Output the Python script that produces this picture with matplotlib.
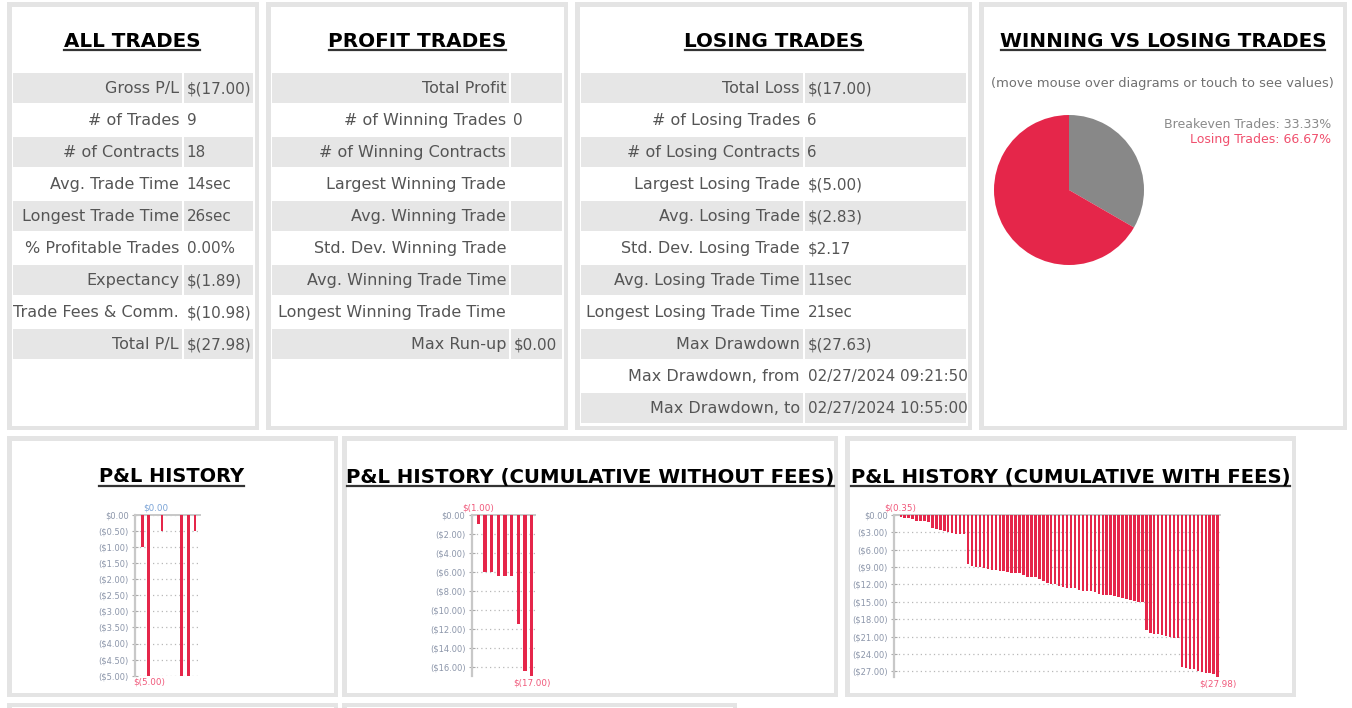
import numpy as np
import matplotlib
matplotlib.use("Agg")
import matplotlib.pyplot as plt
from matplotlib.patches import Rectangle
from matplotlib.lines import Line2D

# ---------------- data ----------------
all_labels = ["Gross P/L", "# of Trades", "# of Contracts", "Avg. Trade Time",
              "Longest Trade Time", "% Profitable Trades", "Expectancy",
              "Trade Fees & Comm.", "Total P/L"]
all_values = ["$(17.00)", "9", "18", "14sec", "26sec", "0.00%", "$(1.89)",
              "$(10.98)", "$(27.98)"]

profit_labels = ["Total Profit", "# of Winning Trades", "# of Winning Contracts",
                 "Largest Winning Trade", "Avg. Winning Trade",
                 "Std. Dev. Winning Trade", "Avg. Winning Trade Time",
                 "Longest Winning Trade Time", "Max Run-up"]
profit_values = ["", "0", "", "", "", "", "", "", "$0.00"]

losing_labels = ["Total Loss", "# of Losing Trades", "# of Losing Contracts",
                 "Largest Losing Trade", "Avg. Losing Trade",
                 "Std. Dev. Losing Trade", "Avg. Losing Trade Time",
                 "Longest Losing Trade Time", "Max Drawdown",
                 "Max Drawdown, from", "Max Drawdown, to"]
losing_values = ["$(17.00)", "6", "6", "$(5.00)", "$(2.83)", "$2.17", "11sec",
                 "21sec", "$(27.63)", "02/27/2024 09:21:50",
                 "02/27/2024 10:55:00"]

pie_labels = ["Breakeven Trades", "Losing Trades"]
pie_values = [33.33, 66.67]

pnl_history = [-1.00, -5.00, 0.00, -0.50, 0.00, 0.00, -5.00, -5.00, -0.50]
cum_without_fees = [-1.00, -6.00, -6.00, -6.50, -6.50, -6.50, -11.50, -16.50, -17.00]
cum_with_fees = [
    -0.35, -0.52, -0.55, -0.70, -1.03, -1.15, -1.17, -1.20, -2.35, -2.55,
    -2.70, -2.75, -2.90, -3.10, -3.28, -3.35, -3.40, -8.45, -8.85, -8.95,
    -9.00, -9.15, -9.40, -9.48, -9.52, -9.62, -9.65, -9.90, -10.05, -10.08,
    -10.12, -10.46, -10.72, -10.78, -10.80, -11.15, -11.40, -11.80, -11.90, -11.95,
    -12.30, -12.53, -12.58, -12.62, -12.70, -12.93, -13.08, -13.12, -13.20, -13.40,
    -13.68, -13.78, -13.80, -13.85, -14.00, -14.25, -14.40, -14.50, -14.70, -14.92,
    -15.00, -15.03, -19.90, -20.40, -20.50, -20.57, -20.75, -20.98, -21.15, -21.18,
    -21.26, -26.20, -26.50, -26.60, -26.67, -26.90, -27.10, -27.30, -27.36, -27.42,
    -27.98]

# ---------------- style ----------------
W, H = 1352, 708
FONT = "DejaVu Sans"
BORDER = "#e4e4e4"
CELL = "#e6e6e6"
TXT = "#555555"
RED = "#e5264a"
GREY = "#888888"
TICKC = "#8c96aa"

plt.rcParams["font.family"] = [FONT]
fig = plt.figure(figsize=(W / 100, H / 100), dpi=100)
fig.patch.set_facecolor("white")
renderer = fig.canvas.get_renderer()


def fx(x):
    return x / W


def fy(y):
    return 1 - y / H


def rect(x0, y0, x1, y1, color):
    fig.patches.append(Rectangle((fx(x0), fy(y1)), (x1 - x0) / W, (y1 - y0) / H,
                                 transform=fig.transFigure, facecolor=color,
                                 edgecolor="none", zorder=-5))


def text_width(s, size, weight="normal"):
    t = fig.text(0, 0, s, fontsize=size, weight=weight)
    w = t.get_window_extent(renderer).width
    t.remove()
    return w


def fit_size(s, target, weight="normal"):
    return 20 * target / text_width(s, 20, weight)


def panel(x0, y0, x1, y1, b=4.5):
    rect(x0, y0, x1, y1, BORDER)
    rect(x0 + b, y0 + b, x1 - b, y1 - b, "white")


def title(xc, baseline, s, width):
    size = fit_size(s, width, "bold")
    fig.text(fx(xc), fy(baseline), s, fontsize=size, weight="bold",
             color="black", ha="center", va="baseline")
    fig.lines.append(Line2D([fx(xc - width / 2), fx(xc + width / 2)],
                            [fy(baseline + 3.5), fy(baseline + 3.5)],
                            transform=fig.transFigure, color="#333333", lw=1.6))


# panels
panel(7, 2, 259, 430)
panel(266, 2, 568, 430)
panel(575, 2, 972, 430)
panel(979, 2, 1347, 430)
panel(7, 436, 338, 697)
panel(342, 436, 838, 697)
panel(845, 436, 1296, 697)
panel(7, 703, 338, 730)
panel(342, 703, 737, 730)

# titles
title(132, 46.7, "ALL TRADES", 136)
title(417.5, 46.7, "PROFIT TRADES", 177)
title(774, 46.7, "LOSING TRADES", 178)
title(1163, 46.7, "WINNING VS LOSING TRADES", 324)
title(171.5, 482.5, "P&L HISTORY", 145)
title(590.5, 482.5, "P&L HISTORY (CUMULATIVE WITHOUT FEES)", 487)
title(1070.5, 482.5, "P&L HISTORY (CUMULATIVE WITH FEES)", 439)

# tables: label size from several reference widths, value size from date/money strings
_fits = [fit_size("Longest Winning Trade Time", 232), fit_size("Trade Fees & Comm.", 163),
         fit_size("Max Drawdown, from", 171), fit_size("Longest Trade Time", 157),
         fit_size("Gross P/L", 74)]
LSIZE = float(np.mean(_fits))
_vfit = (fit_size("02/27/2024 09:21:50", 154) + fit_size("$(17.00)", 59)) / 2
VSIZE = 0.5 * (_vfit + LSIZE)


def table(labels, values, lx0, lx1, vx1):
    for i, (lab, val) in enumerate(zip(labels, values)):
        top = 73 + 32 * i
        if i % 2 == 0:
            rect(lx0, top, lx1, top + 30, CELL)
            rect(lx1 + 2, top, vx1, top + 30, CELL)
        fig.text(fx(lx1 - 3), fy(top + 20.0), lab, fontsize=LSIZE, color=TXT,
                 ha="right", va="baseline")
        fig.text(fx(lx1 + 4.5), fy(top + 20.0), val, fontsize=VSIZE, color=TXT,
                 ha="left", va="baseline")


table(all_labels, all_values, 13, 182, 253)
table(profit_labels, profit_values, 272, 509, 562)
table(losing_labels, losing_values, 581, 803, 966)

# pie panel
sub = "(move mouse over diagrams or touch to see values)"
fig.text(fx(1162.5), fy(87.5), sub, fontsize=fit_size(sub, 341), color="#707070",
         ha="center", va="baseline")
lsize = fit_size("Breakeven Trades: 33.33%", 167)
fig.text(fx(1331), fy(127.5), f"{pie_labels[0]}: {pie_values[0]:.2f}%", fontsize=lsize,
         color="#8a8a8a", ha="right", va="baseline")
fig.text(fx(1331), fy(143.5), f"{pie_labels[1]}: {pie_values[1]:.2f}%", fontsize=lsize,
         color="#f0506e", ha="right", va="baseline")
axp = fig.add_axes([fx(994), fy(265), 150 / W, 150 / H])
axp.pie(pie_values, colors=[GREY, RED], startangle=90, counterclock=False,
        wedgeprops=dict(linewidth=0))
axp.set_xlim(-1, 1)
axp.set_ylim(-1, 1)
axp.set_aspect("equal")
axp.axis("off")


# bar charts
def money(v):
    if abs(v) < 1e-9:
        return "$0.00"
    if v < 0:
        return f"(${-v:.2f})"
    return f"${v:.2f}"


def money_label(v):
    if abs(v) < 1e-9:
        return "$0.00"
    if v < 0:
        return f"$({-v:.2f})"
    return f"${v:.2f}"


def bar_chart(values, left, right, bottom, ymin, step, width, xlim):
    top = 514.7
    ax = fig.add_axes([fx(left), fy(bottom), (right - left) / W, (bottom - top) / H])
    x = np.arange(len(values))
    ax.bar(x, values, width=width, color=RED, zorder=3, linewidth=0)
    ax.set_xlim(*xlim)
    ax.set_ylim(ymin, 0)
    ticks = np.arange(0, ymin - 1e-9, -step)
    ax.set_yticks(ticks)
    ax.set_yticklabels([money(t) for t in ticks])
    ax.tick_params(axis="y", labelsize=6.0, labelcolor=TICKC, color="#aaaaaa",
                   length=5, width=0.8, direction="inout", pad=2)
    ax.set_xticks([])
    for s in ["right", "bottom"]:
        ax.spines[s].set_visible(False)
    ax.spines["left"].set_color("#c8c8c8")
    ax.spines["left"].set_linewidth(1.6)
    ax.spines["top"].set_color("#c8c8c8")
    ax.spines["top"].set_linewidth(1.4)
    ax.grid(axis="y", color="#b8b8b8", linestyle=(0, (1, 2.5)), linewidth=0.9, zorder=0)
    ax.set_facecolor("none")
    vals = np.array(values)
    imax, imin = int(np.argmax(vals)), int(np.argmin(vals))
    cmax = "#7aa3d6" if vals[imax] >= 0 else "#f0587a"
    ax.annotate(money_label(vals[imax]), xy=(imax, 1), xycoords=("data", "axes fraction"),
                xytext=(0, 1.5), textcoords="offset points", ha="center", va="bottom",
                fontsize=6.3, color=cmax, annotation_clip=False)
    ax.annotate(money_label(vals[imin]), xy=(imin, 0), xycoords=("data", "axes fraction"),
                xytext=(0, -1.5), textcoords="offset points", ha="center", va="top",
                fontsize=6.3, color="#f0587a", annotation_clip=False)
    return ax


bar_chart(pnl_history, 135, 200, 675.7, -5.0, 0.5, 0.42, (-1.1, 8.75))
bar_chart(cum_without_fees, 471.7, 535, 676.2, -17.0, 2, 0.5, (-1.0, 8.5))
bar_chart(cum_with_fees, 894, 1220, 677, -27.98, 3, 0.62, (-1.7, 80.6))

fig.savefig("out.png", dpi=100, facecolor="white")
